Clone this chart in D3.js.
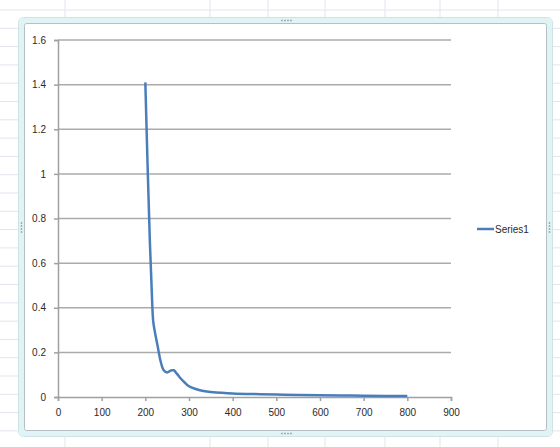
<!DOCTYPE html>
<html>
<head>
<meta charset="utf-8">
<script src="https://cdn.jsdelivr.net/npm/d3@7"></script>
<style>
  body { margin: 0; background: #fff; }
  svg { display: block; }
  .tick text { font-family: "Liberation Sans", Arial, sans-serif; font-size: 10px; fill: #2a2a2a; }
</style>
</head>
<body>
<div id="chart"></div>
<script>
var svgWidth = 560;
var svgHeight = 447;

// data
var wavelength = [200, 205, 210, 215, 218, 222, 228, 235, 242, 250, 258, 265, 272, 280, 290, 300, 312, 325, 345, 375, 400, 450, 500, 550, 600, 650, 700, 750, 800];
var series1 = [1.41, 1.05, 0.72, 0.46, 0.34, 0.29, 0.23, 0.16, 0.12, 0.11, 0.118, 0.12, 0.105, 0.085, 0.065, 0.048, 0.038, 0.03, 0.024, 0.019, 0.016, 0.013, 0.011, 0.009, 0.008, 0.007, 0.006, 0.005, 0.004];
var xTicks = [0, 100, 200, 300, 400, 500, 600, 700, 800, 900];
var yTicks = [0, 0.2, 0.4, 0.6, 0.8, 1, 1.2, 1.4, 1.6];
var seriesName = "Series1";

var margin = { top: 40, left: 58 };
var width = 393;
var height = 357;

var svg = d3.select("#chart")
    .append("svg")
    .attr("width", svgWidth)
    .attr("height", svgHeight);

// spreadsheet cells behind the chart
var sheet = svg.append("g").attr("stroke", "#e2e5ee").attr("stroke-width", 1);
d3.range(10, svgHeight, 18.3).forEach(function(y) {
    sheet.append("line").attr("x1", 0).attr("x2", svgWidth).attr("y1", y).attr("y2", y);
});
[65, 210, 268, 325, 385, 440, 498].forEach(function(x) {
    sheet.append("line").attr("x1", x).attr("x2", x).attr("y1", 0).attr("y2", svgHeight);
});

// chart frame: light band with a thin grey inner edge
svg.append("rect")
    .attr("x", 21.5).attr("y", 20.5)
    .attr("width", 528).attr("height", 413)
    .attr("rx", 4)
    .attr("fill", "#fff")
    .attr("stroke", "#e1f4f5")
    .attr("stroke-width", 6);
svg.append("rect")
    .attr("x", 18.5).attr("y", 17.5)
    .attr("width", 534).attr("height", 419)
    .attr("rx", 5)
    .attr("fill", "none")
    .attr("stroke", "#cfe3e6")
    .attr("stroke-width", 1);
svg.append("rect")
    .attr("x", 24.5).attr("y", 23.5)
    .attr("width", 522).attr("height", 407)
    .attr("rx", 2)
    .attr("fill", "none")
    .attr("stroke", "#b5c0c4")
    .attr("stroke-width", 1);

// resize handles
var handles = svg.append("g").attr("fill", "#8a9aa0");
[[282, 20.5, 1, 0], [282, 433.5, 1, 0], [21.5, 223, 0, 1], [549.5, 223, 0, 1]].forEach(function(h) {
    d3.range(4).forEach(function(k) {
        handles.append("rect")
            .attr("x", h[0] + k * 3 * h[2] - 0.75)
            .attr("y", h[1] + k * 3 * h[3] - 0.75)
            .attr("width", 1.5).attr("height", 1.5);
    });
});

var chartGroup = svg.append("g")
    .attr("transform", `translate(${margin.left}, ${margin.top})`);

var xScale = d3.scaleLinear().domain([0, 900]).range([0, width]);
var yScale = d3.scaleLinear().domain([0, 1.6]).range([height, 0]);

// gridlines
chartGroup.append("g")
    .selectAll("line")
    .data(yTicks.slice(1))
    .enter()
    .append("line")
    .attr("x1", 0).attr("x2", width)
    .attr("y1", d => yScale(d)).attr("y2", d => yScale(d))
    .attr("stroke", "#ababab")
    .attr("stroke-width", 1.5);

var leftAxis = d3.axisLeft(yScale).tickValues(yTicks).tickSize(4).tickPadding(8).tickFormat(d3.format("~g"));
var bottomAxis = d3.axisBottom(xScale).tickValues(xTicks).tickSize(4).tickPadding(8);

var yAxisG = chartGroup.append("g").call(leftAxis);
var xAxisG = chartGroup.append("g")
    .attr("transform", `translate(0, ${height})`)
    .call(bottomAxis);

[yAxisG, xAxisG].forEach(function(g) {
    g.select(".domain").attr("stroke", "#a0a0a0").attr("stroke-width", 1.5);
    g.selectAll(".tick line").attr("stroke", "#a0a0a0").attr("stroke-width", 1.5);
});

// the series
var line = d3.line()
    .x((d, i) => xScale(wavelength[i]))
    .y(d => yScale(d))
    .curve(d3.curveCatmullRom.alpha(0.5));

chartGroup.append("path")
    .datum(series1)
    .attr("d", line)
    .attr("fill", "none")
    .attr("stroke", "#4a7ebb")
    .attr("stroke-width", 2.5)
    .attr("stroke-linejoin", "round");

// legend
var legend = svg.append("g").attr("transform", "translate(477, 229)");
legend.append("line")
    .attr("x1", 0).attr("x2", 17)
    .attr("stroke", "#4a7ebb")
    .attr("stroke-width", 2.5);
legend.append("text")
    .attr("x", 18).attr("dy", "0.35em")
    .attr("font-family", "Liberation Sans, Arial, sans-serif")
    .attr("font-size", "10px")
    .attr("fill", "#2a2a2a")
    .text(seriesName);
</script>
</body>
</html>
